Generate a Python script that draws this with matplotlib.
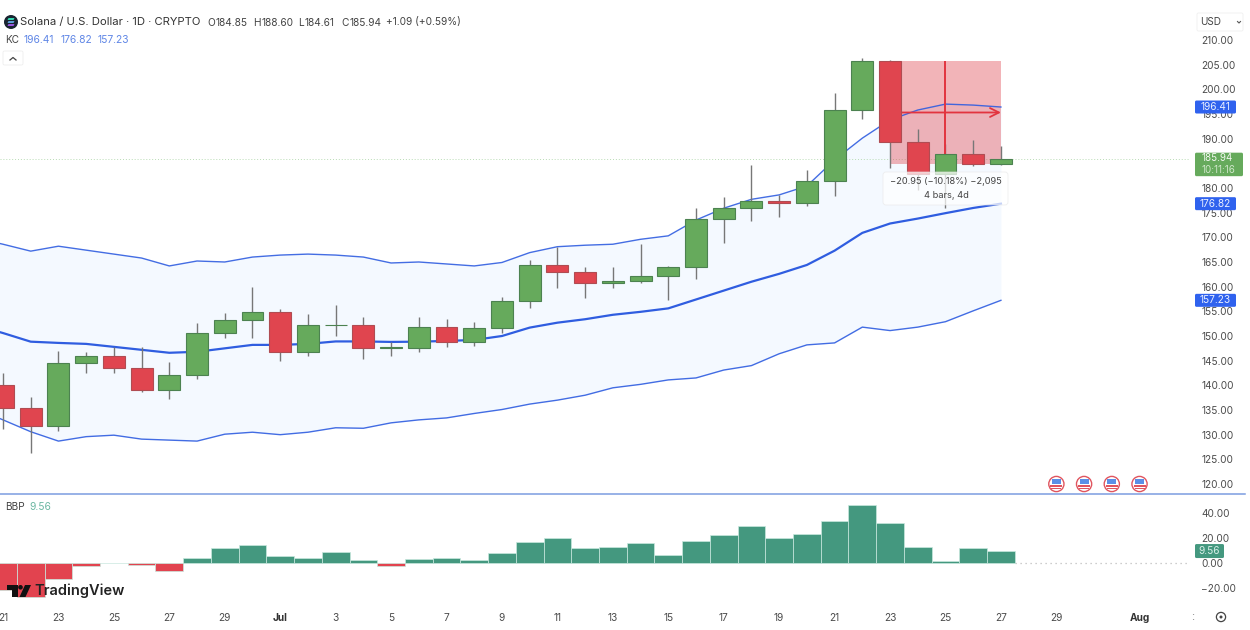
import matplotlib
matplotlib.use("Agg")
import matplotlib.pyplot as plt
from matplotlib.patches import Rectangle, FancyBboxPatch, Circle, Polygon

plt.rcParams['font.family'] = ['Inter', 'DejaVu Sans']

W, H = 1250, 630

# ---------- data ----------
days = list(range(37))
opens = [140.1,135.4,131.8,144.5,145.9,143.5,139.1,142.0,150.7,153.3,154.8,146.8,152.2,152.3,147.6,147.6,151.8,
         148.8,151.6,157.0,164.3,162.9,160.7,161.1,162.1,163.9,173.7,175.9,177.3,177.0,181.5,195.8,205.7,189.4,
         182.9,186.8,184.85]
highs = [142.6,137.6,146.9,146.8,147.8,147.8,144.8,152.7,154.7,159.9,155.5,154.5,156.3,153.8,148.7,153.8,153.4,
         152.8,158.0,165.4,168.1,163.9,164.0,168.6,164.2,175.9,178.1,184.7,178.6,183.7,199.2,206.3,206.0,191.9,
         189.0,189.7,188.60]
lows = [131.1,126.2,130.8,142.4,142.4,138.7,137.3,141.2,149.5,149.5,144.9,145.9,150.0,145.3,145.9,146.8,147.7,
        147.9,150.7,155.7,159.7,157.8,159.7,160.8,157.3,161.6,168.9,173.4,174.2,176.4,178.4,193.9,184.1,179.5,
        175.9,184.5,184.61]
closes = [135.4,131.8,144.5,145.9,143.5,139.1,142.0,150.7,153.3,154.8,146.8,152.2,152.3,147.6,147.7,151.8,148.8,
          151.6,157.0,164.3,162.9,160.7,161.1,162.1,163.9,173.7,175.9,177.3,177.0,181.5,195.8,205.7,189.4,182.9,
          186.8,184.85,185.94]

kc_days = list(range(-1, 37))
kc_upper = [169.9,168.6,167.2,168.2,167.4,166.6,165.8,164.2,165.2,165.0,166.0,166.4,166.6,166.4,166.0,164.8,165.0,
            164.6,164.2,164.9,166.9,168.1,168.4,168.6,169.6,170.3,173.5,175.9,177.7,178.6,180.4,185.7,190.1,193.8,
            195.8,197.0,196.8,196.41]
kc_mid = [152.2,150.6,148.85,148.6,148.4,147.8,147.2,146.6,146.8,147.5,148.2,148.2,148.4,148.9,148.9,148.8,148.85,
          149.0,149.2,150.0,151.7,152.7,153.4,154.3,154.9,155.6,157.4,159.2,161.0,162.6,164.4,167.3,170.9,172.8,
          173.8,174.9,175.95,176.82]
kc_lower = [135.4,133.0,130.6,128.7,129.6,129.9,129.1,128.9,128.7,130.1,130.5,130.0,130.5,131.4,131.3,132.4,133.0,
            133.4,134.3,135.1,136.2,137.0,138.0,139.5,140.2,141.1,141.5,143.1,144.0,146.4,148.2,148.6,151.8,151.1,
            151.8,152.9,155.1,157.23]

bbp = [-21.6,-27.5,-13.1,-2.1,-0.3,-1.9,-6.1,4.3,12.0,14.4,5.6,4.3,8.8,2.1,-2.4,3.2,4.0,2.4,8.0,16.8,20.0,12.3,
       12.8,16.3,6.4,17.9,22.4,29.6,20.3,23.5,33.3,46.1,32.3,12.8,1.9,12.3,9.56]

price_ticks = list(range(120, 215, 5))
bbp_ticks = [40, 20, 0, -20]
date_ticks = [0, 2, 4, 6, 8, 10, 12, 14, 16, 18, 20, 22, 24, 26, 28, 30, 32, 34, 36, 38, 41]
date_labels = ['21', '23', '25', '27', '29', 'Jul', '3', '5', '7', '9', '11', '13', '15', '17', '19', '21', '23',
               '25', '27', '29', 'Aug']
event_days = [38, 39, 40, 41]

measure_start, measure_end = 32, 36
measure_top, measure_bottom = 205.79, 184.85
last_price = 185.94

# ---------- styles ----------
GREEN = '#66aa5c'
GREEN_E = '#4c8250'
RED = '#e0454f'
RED_E = '#b04c52'
BLUE = '#2f5de0'
HIST_G = '#44987f'
HIST_R = '#e2434f'
TXT = '#4c4c4c'
FS = 7.3


def axpos(x0, y0, x1, y1):
    return [x0 / W, 1 - y1 / H, (x1 - x0) / W, (y1 - y0) / H]


fig = plt.figure(figsize=(W / 100, H / 100), dpi=100, facecolor='white')
ax = fig.add_axes(axpos(0, 0, 1190, 493))
sub = fig.add_axes(axpos(0, 494, 1190, 605))
ov = fig.add_axes([0, 0, 1, 1], zorder=20)
ov.set_xlim(0, W)
ov.set_ylim(H, 0)
ov.axis('off')
ov.patch.set_alpha(0)

x_left, x_right = -3 / 27.72, 1187 / 27.72

# ---------- main pane ----------
ax.set_xlim(x_left, x_right)
ax.set_ylim(118.18, 218.1)
for s in ax.spines.values():
    s.set_visible(False)
ax.set_xticks([])
ax.yaxis.tick_right()
ax.set_yticks(price_ticks)
ax.set_yticklabels([f'{v:.2f}' for v in price_ticks], fontsize=FS, color=TXT)
ax.tick_params(axis='y', length=0, pad=8)

ax.fill_between(kc_days, kc_lower, kc_upper, color='#f4f9ff', lw=0, zorder=1)
ax.add_patch(Rectangle((measure_start, measure_bottom), measure_end - measure_start,
                       measure_top - measure_bottom, facecolor=RED, alpha=0.4, lw=0, zorder=2))
ax.plot(kc_days, kc_upper, color=BLUE, lw=1.0, alpha=0.9, zorder=3)
ax.plot(kc_days, kc_lower, color=BLUE, lw=1.0, alpha=0.9, zorder=3)
ax.plot(kc_days, kc_mid, color=BLUE, lw=1.6, zorder=3)
ax.axhline(last_price, color='#b9dcb5', lw=0.7, ls=(0, (1, 2)), zorder=1.5)

body_col = [GREEN if c >= o else RED for o, c in zip(opens, closes)]
edge_col = [GREEN_E if c >= o else RED_E for o, c in zip(opens, closes)]
ax.vlines(days, lows, highs, color='#777777', lw=1.0, zorder=3.5)
ax.vlines((measure_start + measure_end) / 2, measure_bottom, measure_top, color='#e2343f', lw=1.4, zorder=4.5)
ax.annotate('', xy=(measure_end, 195.3), xytext=(measure_start, 195.3), zorder=4.5,
            arrowprops=dict(arrowstyle='->', color='#e2343f', lw=1.3, shrinkA=0, shrinkB=0, mutation_scale=16))
ax.bar(days, [c - o for o, c in zip(opens, closes)], bottom=opens, width=0.79,
       color=body_col, edgecolor=edge_col, linewidth=0.8, zorder=5)

# ---------- BBP pane ----------
sub.set_xlim(x_left, x_right)
sub.set_ylim(-33.6, 55.2)
for s in sub.spines.values():
    s.set_visible(False)
sub.yaxis.tick_right()
sub.set_yticks(bbp_ticks)
sub.set_yticklabels([f'{v:.2f}'.replace('-', '\u2212') for v in bbp_ticks], fontsize=FS, color=TXT)
sub.tick_params(axis='y', length=0, pad=8)
sub.set_xticks(date_ticks)
sub.set_xticklabels(date_labels, fontsize=FS, color=TXT)
sub.tick_params(axis='x', length=0, pad=6)
for t in sub.get_xticklabels():
    if t.get_text() in ('Jul', 'Aug'):
        t.set_fontweight('bold')
        t.set_color('#333333')
hist_col = ['#d8d8d8' if abs(v) < 0.5 else (HIST_G if v > 0 else HIST_R) for v in bbp]
sub.bar(days, bbp, width=1.0, color=hist_col, edgecolor='#c9e8df', linewidth=0.5, zorder=3)
sub.hlines(0, days[-1] + 0.5, x_right, color='#bdbdbd', lw=0.9, ls=(0, (1, 3)), zorder=1)


# ---------- overlay ----------
def ypx(axes, v):
    return ov.transData.inverted().transform(axes.transData.transform((0, v)))[1]


def xpx(axes, v):
    return ov.transData.inverted().transform(axes.transData.transform((v, 0)))[0]


def box(x0, y0, x1, y1, fc, ec='none', r=1.5, alpha=1, lw=0.6, z=5):
    ov.add_patch(FancyBboxPatch((x0 + r, y0 + r), x1 - x0 - 2 * r, y1 - y0 - 2 * r,
                                boxstyle=f'round,pad={r},rounding_size={r}', fc=fc, ec=ec, lw=lw, alpha=alpha,
                                zorder=z))


ov.plot([0, 1245], [493.5, 493.5], color='#7c9ce0', lw=1.1, zorder=2)

# header
ov.add_patch(Circle((11, 22), 7, fc='#1a2430', ec='none', zorder=3))
for dy, col in zip((-3, 0, 3), ('#35d6b0', '#5aa0d8', '#9a55e0')):
    ov.add_patch(Polygon([(7.5, 22 + dy + 1), (13.5, 22 + dy + 1), (14.5, 22 + dy - 1), (8.5, 22 + dy - 1)],
                         fc=col, ec='none', zorder=4))
ov.text(20.5, 22, 'Solana / U.S. Dollar \u00b7 1D \u00b7 CRYPTO', fontsize=8.1, color='#333333', va='center')
for x, lab, val in [(207, 'O', '184.85'), (253, 'H', '188.60'), (298, 'L', '184.61'), (341, 'C', '185.94')]:
    ov.text(x, 22.5, lab, fontsize=7.3, color='#444444', va='center')
    ov.text(x + (9 if lab != 'L' else 6.5), 22.5, val, fontsize=7.3, color='#444444', va='center')
ov.text(386, 22.5, '+1.09 (+0.59%)', fontsize=7.3, color='#444444', va='center')
ov.text(5, 40, 'KC', fontsize=7.2, color='#444444', va='center')
for x, val in zip((24, 61, 98), (kc_upper[-1], kc_mid[-1], kc_lower[-1])):
    ov.text(x, 40, f'{val:.2f}', fontsize=7.4, color='#5f86e6', va='center')
box(3, 51, 23, 65, 'white', ec='#eeeeee')
ov.plot([10, 13, 16], [60, 57.5, 60], color='#444444', lw=0.9, zorder=6)
ov.text(5, 507, 'BBP', fontsize=7.2, color='#444444', va='center')
ov.text(29, 507, f'{bbp[-1]:.2f}', fontsize=7.4, color='#6db8a3', va='center')

# TradingView mark
ov.add_patch(Polygon([(7, 585), (17.5, 585), (17.5, 597), (12, 597), (12, 590), (7, 590)], fc='#111111', zorder=6))
ov.add_patch(Circle((20.5, 587.3), 2.3, fc='#111111', zorder=6))
ov.add_patch(Polygon([(25, 585), (31, 585), (25.5, 597), (19.5, 597)], fc='#111111', zorder=6))
ov.text(34.5, 591, 'TradingView', fontsize=10.5, color='#222222', va='center', fontweight='semibold', zorder=6)

# USD selector
box(1197, 13, 1243, 31, 'white', ec='#f0f0f0')
ov.text(1200, 22, 'USD', fontsize=7.2, color='#444444', va='center', zorder=6)
ov.plot([1237.5, 1239, 1240.5], [21.5, 23, 21.5], color='#555555', lw=0.8, zorder=6)

# measure tooltip
box(883, 172, 1008, 205, 'white', ec='#e8e8e8', r=3, alpha=0.72, z=4)
ov.text(946, 181.5, '\u221220.95 (\u221210.18%) \u22122,095', fontsize=6.7, color='#444444', ha='center', va='center',
        zorder=6)
ov.text(946, 196, '4 bars, 4d', fontsize=6.7, color='#444444', ha='center', va='center', zorder=6)

# price tags
for val in (kc_upper[-1], kc_mid[-1], kc_lower[-1]):
    y = ypx(ax, val)
    box(1195, y - 6.5, 1236, y + 6.5, '#2f62ee')
    ov.text(1215.5, y, f'{val:.2f}', fontsize=FS, color='#e8eeff', ha='center', va='center', zorder=6)
y = ypx(ax, last_price)
box(1195, y - 6, 1243, y + 17.5, '#66aa5c')
ov.text(1201.5, y - 0.5, f'{last_price:.2f}', fontsize=7.0, color='#f2f8f0', va='center', zorder=6)
ov.text(1201.5, y + 11.5, '10:11:16', fontsize=7.0, color='#cfe6ca', va='center', zorder=6)
y = ypx(sub, bbp[-1])
box(1195, y - 7, 1224, y + 7, HIST_G)
ov.text(1209.5, y, f'{bbp[-1]:.2f}', fontsize=FS, color='#d8efe8', ha='center', va='center', zorder=6)

# event flags
for d in event_days:
    cx = xpx(ax, d)
    cy = 484
    ov.add_patch(Circle((cx, cy), 7.6, fc='white', ec='#e0555f', lw=1.0, zorder=5))
    ov.add_patch(Rectangle((cx - 6, cy + 1.2), 12, 1.6, fc='#e0555f', lw=0, zorder=6))
    ov.add_patch(Rectangle((cx - 5, cy + 4), 10, 1.4, fc='#e0555f', lw=0, zorder=6))
    ov.add_patch(Rectangle((cx - 4.5, cy - 5), 9, 4.8, fc='#5b8fe6', lw=0, zorder=6))

# bottom-right controls
ov.text(1193, 616.5, ':', fontsize=7.6, color='#777777', ha='center', va='center')
ov.add_patch(Circle((1221, 617), 4.6, fc='white', ec='#444444', lw=0.9, zorder=5))
ov.add_patch(Circle((1221, 617), 1.5, fc='#444444', ec='none', zorder=6))

fig.savefig('out.png', dpi=100)
